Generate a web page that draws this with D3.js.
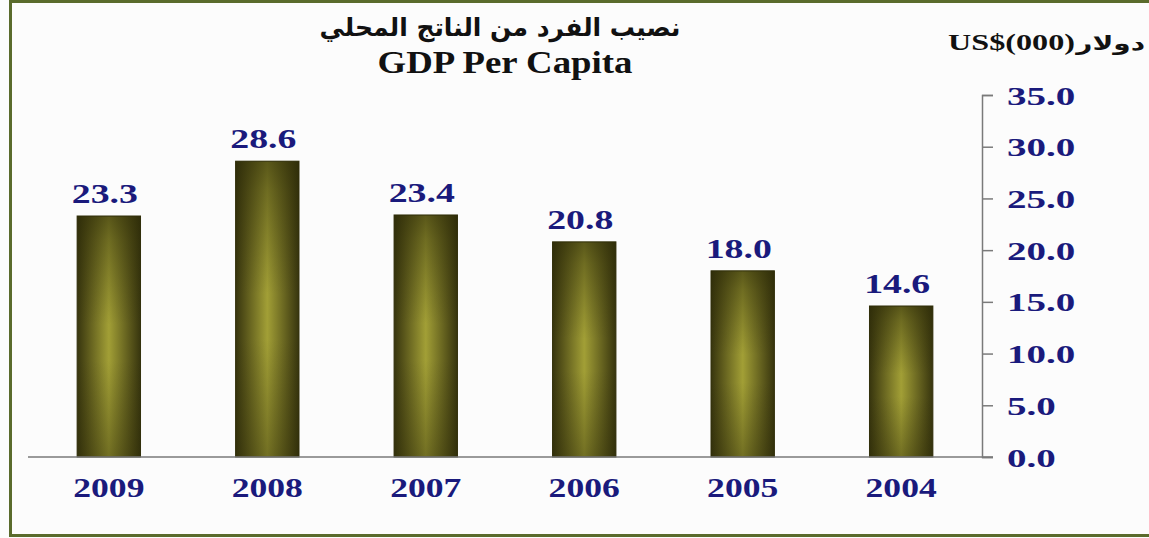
<!DOCTYPE html>
<html>
<head>
<meta charset="utf-8">
<script src="https://cdn.jsdelivr.net/npm/d3@7"></script>
<style>
  html, body { margin: 0; padding: 0; background: #fcfcfc; }
  svg { display: block; }
</style>
</head>
<body>
<svg id="chart" width="1149" height="538"></svg>
<script>
// GDP per capita, thousands of US dollars
const years = ["2009", "2008", "2007", "2006", "2005", "2004"];
const gdpPerCapita = [23.3, 28.6, 23.4, 20.8, 18.0, 14.6];
const tickValues = [0, 5, 10, 15, 20, 25, 30, 35];
const titleArabic = "نصيب الفرد من الناتج المحلي";
const titleEnglish = "GDP Per Capita";
const unitLatin = "US$(000)";
const unitArabic = "دولار";

const W = 1149, H = 538;
const navy = "#1a1a7c";
const serif = "'Liberation Serif', 'Times New Roman', serif";
const arabicFont = "'DejaVu Sans', sans-serif";

const svg = d3.select("#chart");

// frame
svg.append("rect").attr("x", 0).attr("y", 0).attr("width", W).attr("height", H).attr("fill", "#fcfcfc");
svg.append("rect")
  .attr("x", 10.5).attr("y", 1.5).attr("width", W + 10).attr("height", 534)
  .attr("fill", "none").attr("stroke", "#5a6b2c").attr("stroke-width", 3);

// gradients for the bars
const defs = svg.append("defs");
const hg = defs.append("linearGradient").attr("id", "barH").attr("x1", 0).attr("x2", 1).attr("y1", 0).attr("y2", 0);
[["0%", "#37350e"], ["14%", "#555219"], ["50%", "#a29f36"], ["86%", "#555219"], ["100%", "#37350e"]]
  .forEach(([o, c]) => hg.append("stop").attr("offset", o).attr("stop-color", c));
const vg = defs.append("linearGradient").attr("id", "barV").attr("x1", 0).attr("x2", 0).attr("y1", 0).attr("y2", 1);
[["0%", 0.6], ["10%", 0.42], ["45%", 0.0], ["60%", 0.0], ["100%", 0.4]]
  .forEach(([o, a]) => vg.append("stop").attr("offset", o).attr("stop-color", "#2a2806").attr("stop-opacity", a));

// scales
const x = d3.scaleBand().domain(years).range([28, 982]).paddingInner(0.6).paddingOuter(0.31);
const y = d3.scaleLinear().domain([0, 35]).range([457, 95]);

// bars
const bars = svg.append("g");
years.forEach((yr, i) => {
  const v = gdpPerCapita[i];
  const bx = x(yr), bw = x.bandwidth(), by = y(v), bh = y(0) - y(v);
  bars.append("rect").attr("x", bx).attr("y", by).attr("width", bw).attr("height", bh)
    .attr("fill", "url(#barH)").attr("stroke", "#33310c").attr("stroke-width", 1);
  bars.append("rect").attr("x", bx).attr("y", by).attr("width", bw).attr("height", bh)
    .attr("fill", "url(#barV)");
});

// baseline
svg.append("line").attr("x1", 28).attr("x2", 993).attr("y1", y(0)).attr("y2", y(0))
  .attr("stroke", "#7a7a7a").attr("stroke-width", 1.5);

// right axis
const axis = d3.axisRight(y).tickValues(tickValues).tickFormat(d3.format(".1f"))
  .tickSize(11).tickPadding(14);
const ag = svg.append("g").attr("transform", "translate(982,0)").call(axis);
ag.select(".domain").attr("stroke", "#7a7a7a").attr("stroke-width", 1.5);
ag.selectAll(".tick line").attr("stroke", "#7a7a7a").attr("stroke-width", 1.5);
ag.selectAll(".tick text").remove();
ag.selectAll(".tick").append("text")
  .attr("transform", "translate(25,9) scale(1.5,1)")
  .attr("fill", navy).attr("font-family", serif).attr("font-weight", "bold")
  .attr("font-size", 26).attr("text-anchor", "start")
  .text(d => d3.format(".1f")(d));

// value labels
svg.append("g").selectAll("text").data(years).join("text")
  .attr("transform", (d, i) => `translate(${x(d) + x.bandwidth() / 2 - 4},${y(gdpPerCapita[i]) - 13}) scale(1.4,1)`)
  .attr("text-anchor", "middle").attr("fill", navy).attr("font-family", serif)
  .attr("font-weight", "bold").attr("font-size", 27)
  .text((d, i) => gdpPerCapita[i].toFixed(1));

// year labels
svg.append("g").selectAll("text").data(years).join("text")
  .attr("transform", d => `translate(${x(d) + x.bandwidth() / 2},497) scale(1.32,1)`)
  .attr("text-anchor", "middle").attr("fill", navy).attr("font-family", serif)
  .attr("font-weight", "bold").attr("font-size", 27)
  .text(d => d);

// titles
svg.append("text").attr("x", 500).attr("y", 36).attr("text-anchor", "middle")
  .attr("font-family", arabicFont).attr("font-weight", "bold").attr("font-size", 25)
  .attr("fill", "#111").attr("direction", "rtl").text(titleArabic);
svg.append("text").attr("transform", "translate(505,73) scale(1.15,1)").attr("text-anchor", "middle")
  .attr("font-family", serif).attr("font-weight", "bold").attr("font-size", 32)
  .attr("fill", "#111").text(titleEnglish);

// unit label: latin part, then the Arabic word to its right
const unitG = svg.append("g").attr("transform", "translate(948,50) scale(1.4,1)");
const latin = unitG.append("text").attr("x", 0).attr("y", 0)
  .attr("font-family", serif).attr("font-weight", "bold").attr("font-size", 23)
  .attr("fill", "#111").text(unitLatin);
const lw = latin.node().getComputedTextLength();
unitG.append("text").attr("x", lw + 1).attr("y", 0).attr("text-anchor", "start")
  .attr("font-family", arabicFont).attr("font-weight", "bold").attr("font-size", 20)
  .attr("fill", "#111").text(unitArabic);
</script>
</body>
</html>
